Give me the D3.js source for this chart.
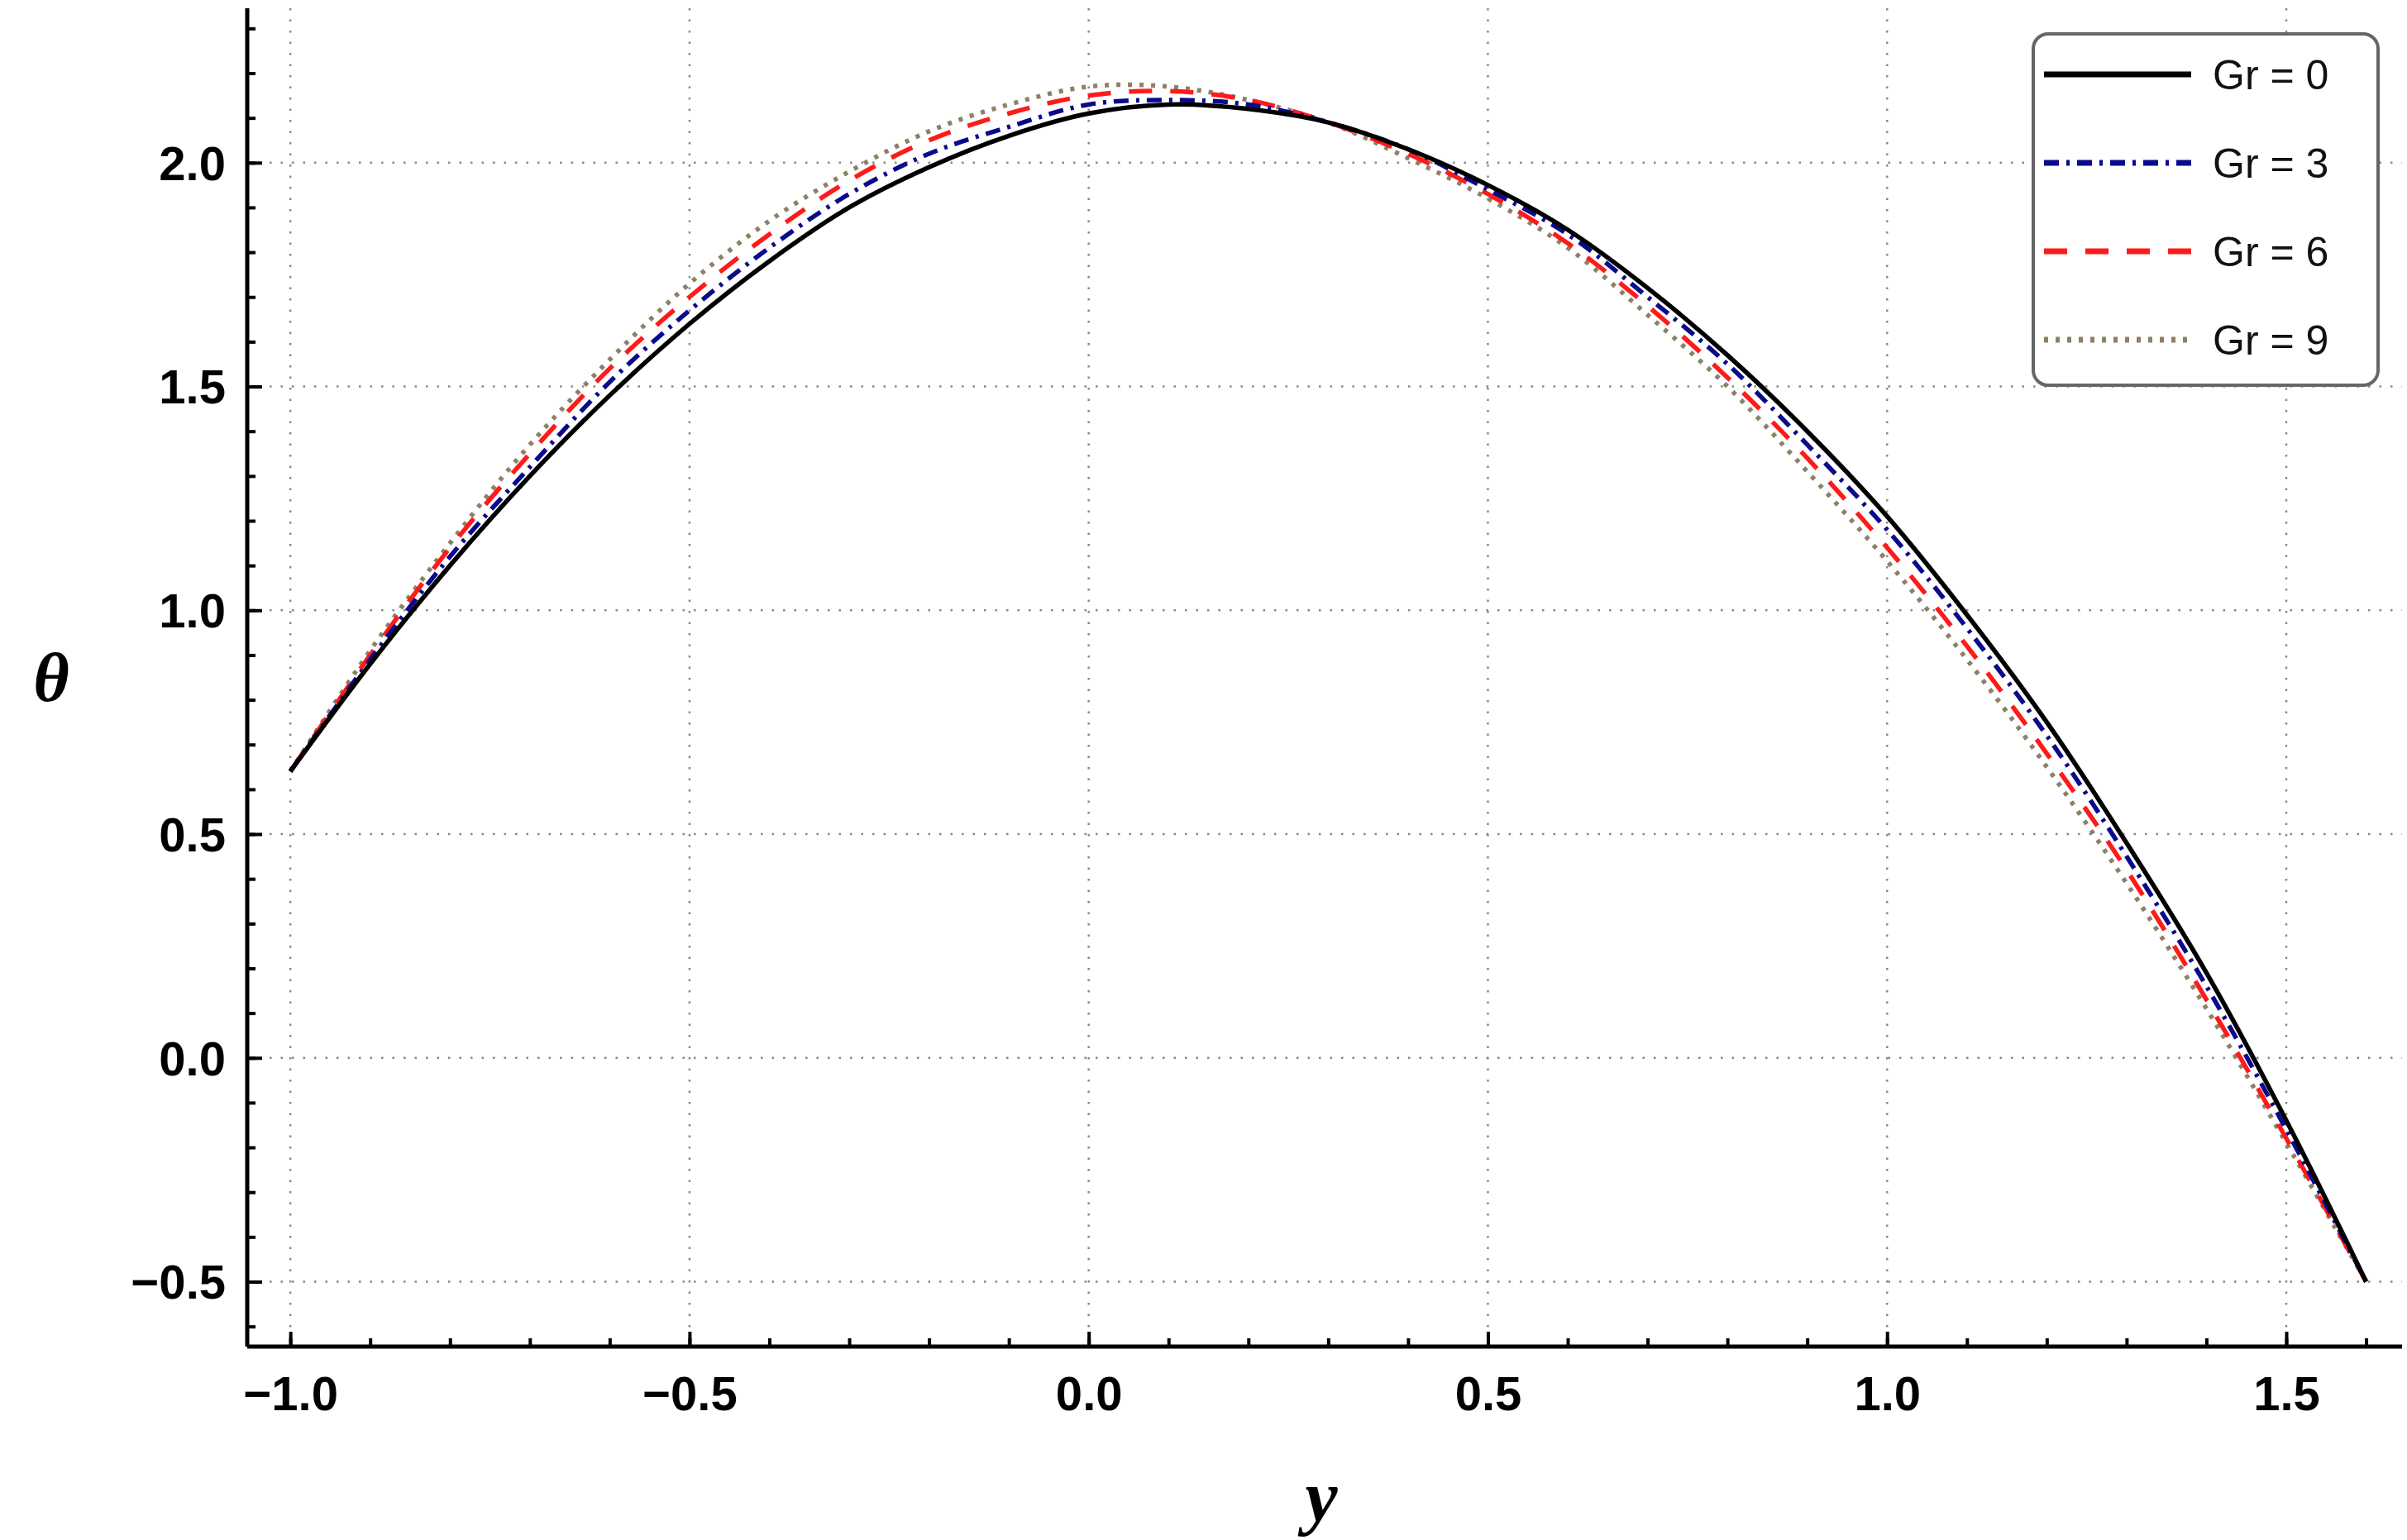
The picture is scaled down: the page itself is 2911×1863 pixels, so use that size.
<!DOCTYPE html>
<html><head><meta charset="utf-8">
<script src="https://cdn.jsdelivr.net/npm/d3@7"></script>
<style>body{margin:0;background:#fff}</style></head>
<body><svg id="c" width="2911" height="1863"></svg>
<script>
const xs = [-1,-0.9,-0.8,-0.7,-0.6,-0.5,-0.4,-0.3,-0.2,-0.1,0,0.1,0.2,0.3,0.4,0.5,0.6,0.7,0.8,0.9,1.0,1.1,1.2,1.3,1.4,1.5,1.6];
const gr0 = [0.64,0.88,1.10,1.30,1.48,1.64,1.78,1.90,1.99,2.06,2.11,2.13,2.12,2.09,2.03,1.95,1.85,1.72,1.57,1.40,1.21,0.99,0.75,0.48,0.19,-0.14,-0.5];
const gr3 = [0.64,0.89,1.12,1.32,1.51,1.67,1.81,1.93,2.02,2.08,2.13,2.14,2.13,2.09,2.03,1.94,1.84,1.70,1.55,1.37,1.18,0.96,0.72,0.45,0.16,-0.16,-0.5];
const gr6 = [0.64,0.90,1.14,1.35,1.54,1.70,1.84,1.96,2.05,2.11,2.15,2.16,2.14,2.09,2.02,1.93,1.82,1.68,1.52,1.34,1.14,0.92,0.68,0.42,0.13,-0.18,-0.5];
const gr9 = [0.64,0.91,1.15,1.37,1.56,1.73,1.87,1.98,2.07,2.13,2.17,2.17,2.14,2.09,2.01,1.92,1.81,1.66,1.50,1.31,1.11,0.89,0.65,0.39,0.11,-0.19,-0.5];
const labels = ["Gr = 0","Gr = 3","Gr = 6","Gr = 9"];
const xTicks = [-1.0,-0.5,0.0,0.5,1.0,1.5];
const yTicks = [-0.5,0.0,0.5,1.0,1.5,2.0];

const svg = d3.select("#c");
const L=299,R=2905,T=10,B=1629;
const x = d3.scaleLinear().domain([-1.054,1.645]).range([L,R]);
const y = d3.scaleLinear().domain([-0.645,2.345]).range([B,T]);
const fmt = d => d<0 ? "\u2212"+Math.abs(d).toFixed(1) : d.toFixed(1);

svg.append("g").selectAll("line").data(xTicks).join("line")
 .attr("x1",d=>x(d)).attr("x2",d=>x(d)).attr("y1",T).attr("y2",B)
 .attr("stroke","#888").attr("stroke-width",2.5).attr("stroke-dasharray","2.5,11");
svg.append("g").selectAll("line").data(yTicks).join("line")
 .attr("y1",d=>y(d)).attr("y2",d=>y(d)).attr("x1",L).attr("x2",R)
 .attr("stroke","#888").attr("stroke-width",2.5).attr("stroke-dasharray","2.5,11");

const minorX = d3.range(-1.0,1.61,0.1).map(v=>+v.toFixed(2));
const minorY = d3.range(-0.6,2.31,0.1).map(v=>+v.toFixed(2));
const gx = svg.append("g").attr("transform",`translate(0,${B})`)
 .call(d3.axisBottom(x).tickValues(minorX).tickSize(-10).tickFormat(""));
const gx2 = svg.append("g").attr("transform",`translate(0,${B})`)
 .call(d3.axisBottom(x).tickValues(xTicks).tickSize(-18).tickPadding(36).tickFormat(fmt));
const gy = svg.append("g").attr("transform",`translate(${L},0)`)
 .call(d3.axisLeft(y).tickValues(minorY).tickSize(-10).tickFormat(""));
const gy2 = svg.append("g").attr("transform",`translate(${L},0)`)
 .call(d3.axisLeft(y).tickValues(yTicks).tickSize(-18).tickPadding(26).tickFormat(fmt));
[gx,gx2,gy,gy2].forEach(g=>{
 g.selectAll("path").attr("stroke","#000").attr("stroke-width",5);
 g.selectAll("line").attr("stroke","#000").attr("stroke-width",4);
 g.selectAll("text").attr("font-family","Liberation Sans Narrow, Liberation Sans, Arial, sans-serif")
  .attr("font-weight","bold").attr("font-size",58).attr("fill","#000");
});
gx.select("path").attr("d",`M${L},0H${R}`);
gx2.select("path").remove();
gy.select("path").attr("d",`M0,${B}V${T}`);
gy2.select("path").remove();
gy2.selectAll("text").attr("dy","0.35em");
gx2.selectAll("text").attr("dy","0.71em");

const series=[
 {v:gr0,c:"#000000",dash:null},
 {v:gr3,c:"#0a0a8c",dash:"18,9,4,9"},
 {v:gr6,c:"#ff1a1a",dash:"28,22"},
 {v:gr9,c:"#8f7f66",dash:"5,9"}];
const line = d3.line().x((d,i)=>x(xs[i])).y(d=>y(d)).curve(d3.curveCatmullRom);
[...series].reverse().forEach(s=>{
 svg.append("path").attr("d",line(s.v)).attr("fill","none").attr("stroke",s.c)
  .attr("stroke-width",5.5).attr("stroke-dasharray",s.dash);
});

const lg=svg.append("g");
lg.append("rect").attr("x",2459).attr("y",41).attr("width",417).attr("height",425)
 .attr("rx",18).attr("fill","#fff").attr("stroke","#666").attr("stroke-width",4);
series.forEach((s,i)=>{
 const yy=90+i*107;
 lg.append("line").attr("x1",2472).attr("x2",2650).attr("y1",yy).attr("y2",yy)
  .attr("stroke",s.c).attr("stroke-width",7).attr("stroke-dasharray",s.dash);
 lg.append("text").attr("x",2676).attr("y",yy).attr("dy","0.35em").text(labels[i])
  .attr("font-family","Liberation Sans, Arial, sans-serif").attr("font-size",50).attr("fill","#111");
});

svg.append("text").attr("x",1598).attr("y",1840).attr("text-anchor","middle").text("y")
 .attr("font-family","Liberation Serif, Times New Roman, serif").attr("font-style","italic")
 .attr("font-weight","bold").attr("font-size",88);
svg.append("text").attr("x",62).attr("y",848).attr("text-anchor","middle").text("θ")
 .attr("font-family","Liberation Serif, Times New Roman, serif").attr("font-style","italic")
 .attr("font-weight","bold").attr("font-size",84);
</script></body></html>
